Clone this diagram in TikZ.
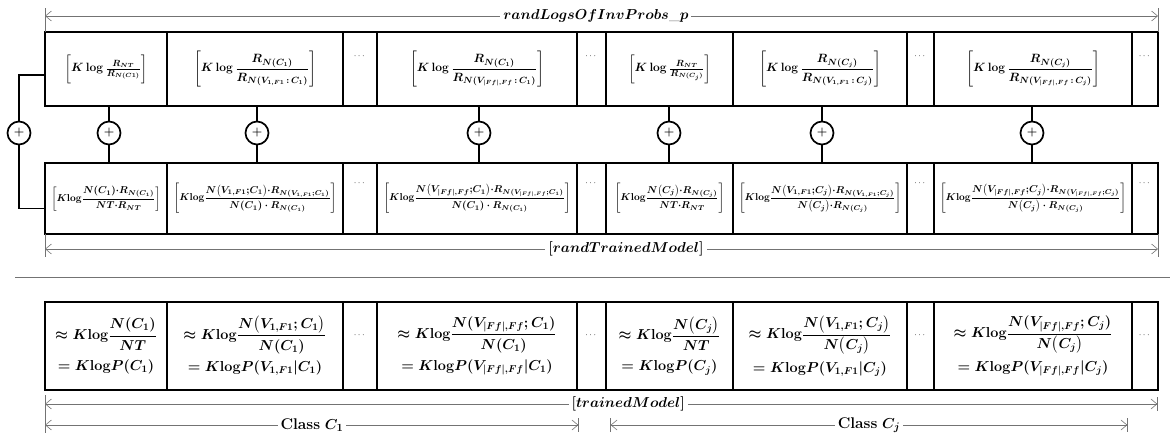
\documentclass[tikz,border=0pt]{standalone}
\usepackage{amsmath}
\usetikzlibrary{arrows.meta}
\newcommand{\Klg}{K\mathrm{log}}
\newcommand{\tc}{{\cdot}}
\begin{document}
\begin{tikzpicture}[x=1pt,y=-1pt,
  cell/.style={draw, line width=1.4pt, rectangle, anchor=north west, inner sep=0pt, outer sep=0pt, align=center},
  ra/.style={cell, minimum height=74pt, font=\fontsize{13}{16}\selectfont\boldmath},
  rb/.style={cell, minimum height=71pt, font=\fontsize{10.3}{13}\selectfont\boldmath},
  rc/.style={cell, minimum height=88pt, font=\fontsize{14}{22}\selectfont\boldmath},
  w/.style={minimum width=#1},
  dotsx/.style={font=\fontsize{9}{10}\selectfont, inner sep=0pt},
  plus/.style={circle, draw, line width=1.7pt, minimum size=23pt, inner sep=0pt, font=\fontsize{12}{12}\selectfont\bfseries, fill=white},
  link/.style={line width=1.6pt},
  tipb/.tip={Straight Barb[length=6pt,width=10pt]},
  dim/.style={draw=black!55, line width=0.6pt, {tipb}-{tipb}},
  dimR/.style={draw=black!55, line width=0.6pt, {tipb}-{tipb[]Bar[width=14pt]}},
  dimLR/.style={draw=black!55, line width=0.6pt, {Bar[width=14pt]tipb[]}-{tipb[]Bar[width=14pt]}},
  ext/.style={draw=black!55, line width=0.6pt},
  lab/.style={fill=white, inner sep=3pt, font=\fontsize{15.5}{17}\selectfont\boldmath}
]
\useasboundingbox (0,0) rectangle (1170,438);

% ---------- row a (top) ----------
\node[ra, w=122pt] (a1) at (45,32) {$\left[K\log\tfrac{R_{NT}}{R_{N(C1)}}\vphantom{\dfrac{R_N}{R_N}}\right]$};
\node[ra, w=176pt] (a2) at (167,32) {$\left[K\log\dfrac{R_{N(C_1)}}{R_{N(V_{1,F1}\,:\,C_1)}}\right]$};
\node[ra, w=34pt]  (a3) at (343,32) {};
\node[ra, w=200pt] (a4) at (377,32) {$\left[K\log\dfrac{R_{N(C_1)}}{R_{N(V_{|Ff|,Ff}\,:\,C_1)}}\right]$};
\node[ra, w=29pt]  (a5) at (577,32) {};
\node[ra, w=127pt] (a6) at (606,32) {$\left[K\log\tfrac{R_{NT}}{R_{N(C_j)}}\vphantom{\dfrac{R_N}{R_N}}\right]$};
\node[ra, w=174pt] (a7) at (733,32) {$\left[K\log\dfrac{R_{N(C_j)}}{R_{N(V_{1,F1}\,:\,C_j)}}\right]$};
\node[ra, w=27pt]  (a8) at (907,32) {};
\node[ra, w=198pt] (a9) at (934,32) {$\left[K\log\dfrac{R_{N(C_j)}}{R_{N(V_{|Ff|,Ff}\,:\,C_j)}}\right]$};
\node[ra, w=26pt]  (a10) at (1132,32) {};
\foreach \n in {a3,a5,a8,a10} \node[dotsx] at ([yshift=-24pt]\n.north) {$\cdots$};

% ---------- row b ----------
\node[rb, w=122pt] (b1) at (45,163) {$\left[\Klg\dfrac{N(C_1)\tc R_{N(C_1)}}{NT\tc R_{NT}}\right]$};
\node[rb, w=176pt] (b2) at (167,163) {$\left[\Klg\dfrac{N\bigl(V_{1,F1}{;}C_1\bigr)\tc R_{N(V_{1,F1}{;}C_1)}}{N(C_1)\cdot R_{N(C_1)}}\right]$};
\node[rb, w=34pt]  (b3) at (343,163) {};
\node[rb, w=200pt] (b4) at (377,163) {$\left[\Klg\dfrac{N\bigl(V_{|Ff|,Ff}{;}C_1\bigr)\tc R_{N(V_{|Ff|,Ff}{;}C_1)}}{N(C_1)\cdot R_{N(C_1)}}\right]$};
\node[rb, w=29pt]  (b5) at (577,163) {};
\node[rb, w=127pt] (b6) at (606,163) {$\left[\Klg\dfrac{N\bigl(C_j\bigr)\tc R_{N(C_j)}}{NT\tc R_{NT}}\right]$};
\node[rb, w=174pt] (b7) at (733,163) {$\left[\Klg\dfrac{N\bigl(V_{1,F1}{;}C_j\bigr)\tc R_{N(V_{1,F1}{;}C_j)}}{N\bigl(C_j\bigr)\tc R_{N(C_j)}}\right]$};
\node[rb, w=27pt]  (b8) at (907,163) {};
\node[rb, w=198pt] (b9) at (934,163) {$\left[\Klg\dfrac{N\bigl(V_{|Ff|,Ff}{;}C_j\bigr)\tc R_{N(V_{|Ff|,Ff}{;}C_j)}}{N\bigl(C_j\bigr)\cdot R_{N(C_j)}}\right]$};
\node[rb, w=26pt]  (b10) at (1132,163) {};
\foreach \n in {b3,b5,b8,b10} \node[dotsx] at ([yshift=-20pt]\n.north) {$\cdots$};

% ---------- plus circles and links ----------
\node[plus] (p0) at (19,133) {+};
\node[plus] (p1) at (109,133) {+};
\node[plus] (p2) at (257,133) {+};
\node[plus] (p3) at (479,133) {+};
\node[plus] (p4) at (669,133) {+};
\node[plus] (p5) at (822,133) {+};
\node[plus] (p6) at (1032,133) {+};
\foreach \p/\t/\b in {p1/a1/b1,p2/a2/b2,p3/a4/b4,p4/a6/b6,p5/a7/b7,p6/a9/b9}{
  \draw[link] (\p.north) -- (\p.north |- \t.south);
  \draw[link] (\p.south) -- (\p.south |- \b.north);
}
\draw[link] ([yshift=-6pt]a1.west) -| (p0.north);
\draw[link] (p0.south) |- ([yshift=-10pt]b1.west);

% ---------- dimension lines of the upper block ----------
\draw[ext] (a1.north west) -- ++(0,-24);
\draw[ext] (a10.north east) -- ++(0,-24);
\draw[dim] ([yshift=16pt]a1.north west) -- ([yshift=16pt]a10.north east)
  node[lab, pos=0.495] {$randLogsOfInvProbs\_p$};
\draw[ext] (b1.south west) -- ++(0,23);
\draw[ext] (b10.south east) -- ++(0,23);
\draw[dim] ([yshift=-15pt]b1.south west) -- ([yshift=-15pt]b10.south east)
  node[lab, pos=0.522] {$[randTrainedModel]$};

% ---------- separator ----------
\draw[ext] (15,277) -- (1170,277);

% ---------- row c ----------
\node[rc, w=122pt] (c1) at (45,302) {$\approx\Klg\dfrac{N(C_1)}{NT}$\\[9pt]$=\Klg P(C_1)$};
\node[rc, w=176pt] (c2) at (167,302) {$\approx\Klg\dfrac{N\bigl(V_{1,F1};C_1\bigr)}{N(C_1)}$\\[6pt]$=\Klg P(V_{1,F1}|C_1)$};
\node[rc, w=34pt]  (c3) at (343,302) {};
\node[rc, w=200pt] (c4) at (377,302) {$\approx\Klg\dfrac{N(V_{|Ff|,Ff};C_1)}{N(C_1)}$\\[6pt]$=\Klg P(V_{|Ff|,Ff}|C_1)$};
\node[rc, w=29pt]  (c5) at (577,302) {};
\node[rc, w=127pt] (c6) at (606,302) {$\approx\Klg\dfrac{N\bigl(C_j\bigr)}{NT}$\\[9pt]$=\Klg P(C_j)$};
\node[rc, w=174pt] (c7) at (733,302) {$\approx\Klg\dfrac{N\bigl(V_{1,F1};C_j\bigr)}{N\bigl(C_j\bigr)}$\\[6pt]$=\Klg P(V_{1,F1}|C_j)$};
\node[rc, w=27pt]  (c8) at (907,302) {};
\node[rc, w=198pt] (c9) at (934,302) {$\approx\Klg\dfrac{N(V_{|Ff|,Ff};C_j)}{N\bigl(C_j\bigr)}$\\[6pt]$=\Klg P(V_{|Ff|,Ff}|C_j)$};
\node[rc, w=26pt]  (c10) at (1132,302) {};
\foreach \n in {c3,c5,c8,c10} \node[dotsx] at ([yshift=-33pt]\n.north) {$\cdots$};

% ---------- dimension lines of the lower block ----------
\coordinate (c1l) at ([yshift=-35pt]c1.south west);
\coordinate (c1r) at ([xshift=2pt,yshift=-35pt]c4.south east);
\coordinate (cjl) at ([xshift=4pt,yshift=-35pt]c6.south west);
\coordinate (cjr) at ([xshift=-4pt,yshift=-35pt]c10.south west);
\draw[ext] ([yshift=-5pt]c1.south west) -- ([yshift=-43pt]c1.south west);
\draw[dimR] ([yshift=-14pt]c1.south west) -- ([yshift=-14pt]c10.south east)
  node[lab, pos=0.524] {$[trainedModel]$};
\draw[dimR] (c1l) -- (c1r) node[lab, midway] {\textbf{Class} $C_1$};
\draw[dimLR] (cjl) -- (cjr) node[lab, midway] {\textbf{Class} $C_j$};
\end{tikzpicture}
\end{document}
